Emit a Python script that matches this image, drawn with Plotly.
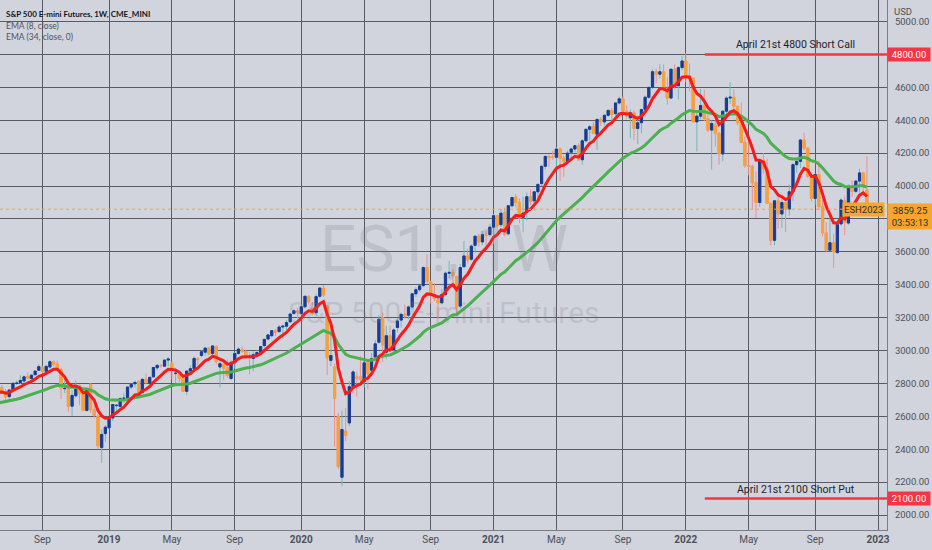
import numpy as np
import pandas as pd
import plotly.graph_objects as go

# weekly bars of ES1! (CME E-mini S&P 500), one per Monday
first_week = "2018-06-11"

opens = [
    2780, 2775, 2750, 2720, 2765, 2800, 2805, 2815, 2842, 2830, 2853, 2880, 2900, 2874, 2900,
    2932, 2918, 2885, 2768, 2770, 2662, 2725, 2785, 2735, 2636, 2795, 2640, 2600, 2410, 2495,
    # 2019
    2530, 2590, 2665, 2660, 2710, 2712, 2778, 2798, 2810, 2745, 2825, 2800, 2840, 2895, 2910,
    2905, 2942, 2920, 2860, 2855, 2830, 2752, 2875, 2890, 2950, 2970, 2990, 3015, 2982, 3025,
    2900, 2915, 2895, 2830, 2925, 2982, 3005, 2994, 2965, 2952, 2975, 2990, 3030, 3070, 3090,
    3120, 3115, 3143, 3148, 3175, 3225, 3242,
    # 2020
    3225, 3266, 3328, 3260, 3230, 3330, 3378, 3270, 2940, 2900, 2600, 2230, 2510, 2560, 2780,
    2840, 2840, 2810, 2925, 2880, 2960, 3050, 3200, 2990, 3090, 3005, 3140, 3185, 3220, 3215,
    3265, 3345, 3370, 3395, 3505, 3415, 3340, 3310, 3290, 3340, 3470, 3475, 3450, 3270, 3510,
    3575, 3555, 3640, 3695, 3660, 3700, 3705,
    # 2021
    3750, 3820, 3765, 3840, 3710, 3880, 3932, 3900, 3810, 3840, 3935, 3910, 3965, 4015, 4120,
    4180, 4175, 4175, 4225, 4170, 4150, 4205, 4225, 4245, 4160, 4275, 4345, 4365, 4315, 4405,
    4390, 4430, 4460, 4440, 4505, 4530, 4455, 4415, 4445, 4350, 4385, 4465, 4540, 4600, 4695,
    4680, 4695, 4585, 4535, 4710, 4610, 4720,
    # 2022
    4760, 4670, 4655, 4390, 4425, 4490, 4410, 4340, 4370, 4320, 4195, 4455, 4535, 4540, 4485,
    4385, 4265, 4125, 4120, 4020, 3900, 4155, 4105, 3895, 3670, 3910, 3830, 3900, 3860, 3965,
    4130, 4150, 4280, 4230, 4060, 3925, 4070, 3875, 3715, 3610, 3655, 3595, 3770, 3910, 3775,
    3995, 3968, 4030, 4080, 3975,
]
highs = [
    2801, 2790, 2765, 2763, 2805, 2817, 2850, 2850, 2865, 2855, 2877, 2917, 2903, 2910, 2941,
    2940, 2940, 2895, 2830, 2785, 2760, 2818, 2795, 2745, 2768, 2800, 2710, 2610, 2520, 2545,
    # 2019
    2600, 2675, 2675, 2715, 2740, 2780, 2795, 2818, 2820, 2830, 2860, 2840, 2898, 2915, 2917,
    2945, 2960, 2935, 2895, 2865, 2840, 2875, 2910, 2965, 2960, 3000, 3018, 3020, 3030, 3030,
    2945, 2950, 2945, 2940, 2990, 3020, 3025, 3005, 2990, 2995, 3000, 3027, 3070, 3100, 3125,
    3130, 3155, 3155, 3185, 3230, 3250, 3260,
    # 2020
    3282, 3332, 3338, 3295, 3345, 3385, 3397, 3280, 3135, 2920, 2620, 2635, 2650, 2815, 2880,
    2870, 2965, 2945, 2945, 2985, 3065, 3215, 3230, 3150, 3150, 3135, 3195, 3230, 3280, 3275,
    3350, 3385, 3395, 3510, 3585, 3425, 3410, 3320, 3375, 3480, 3545, 3495, 3455, 3525, 3665,
    3620, 3645, 3700, 3710, 3725, 3725, 3770,
    # 2021
    3830, 3825, 3860, 3868, 3885, 3935, 3950, 3925, 3935, 3960, 3980, 3965, 4015, 4125, 4185,
    4190, 4215, 4235, 4235, 4185, 4215, 4235, 4250, 4260, 4285, 4345, 4370, 4390, 4410, 4420,
    4435, 4465, 4475, 4505, 4545, 4545, 4490, 4465, 4460, 4420, 4470, 4550, 4600, 4710, 4715,
    4740, 4740, 4660, 4715, 4740, 4730, 4790,
    # 2022
    4808, 4745, 4660, 4460, 4590, 4585, 4485, 4400, 4400, 4330, 4460, 4545, 4630, 4590, 4485,
    4510, 4300, 4300, 4130, 4090, 4160, 4200, 4165, 3900, 3915, 3950, 3920, 3905, 4010, 4140,
    4170, 4285, 4325, 4235, 4065, 4075, 4155, 3920, 3780, 3820, 3710, 3780, 3925, 3935, 4010,
    4035, 4035, 4105, 4085, 4180,
]
lows = [
    2760, 2742, 2692, 2700, 2762, 2790, 2797, 2803, 2825, 2800, 2850, 2878, 2860, 2865, 2890,
    2905, 2875, 2705, 2740, 2628, 2603, 2715, 2670, 2631, 2630, 2621, 2590, 2400, 2317, 2445,
    # 2019
    2525, 2570, 2620, 2630, 2680, 2705, 2765, 2775, 2725, 2740, 2800, 2785, 2838, 2880, 2896,
    2900, 2905, 2825, 2800, 2805, 2748, 2730, 2865, 2880, 2910, 2960, 2970, 2972, 2975, 2915,
    2776, 2822, 2834, 2820, 2890, 2975, 2985, 2950, 2855, 2873, 2955, 2985, 3020, 3060, 3080,
    3090, 3110, 3070, 3125, 3170, 3220, 3195,
    # 2020
    3215, 3255, 3280, 3215, 3215, 3320, 3325, 2850, 2905, 2415, 2280, 2175, 2450, 2540, 2740,
    2720, 2795, 2775, 2765, 2875, 2950, 3040, 2930, 2950, 2990, 2990, 3110, 3140, 3195, 3190,
    3255, 3325, 3355, 3385, 3410, 3285, 3300, 3195, 3280, 3330, 3440, 3415, 3230, 3255, 3500,
    3530, 3545, 3595, 3630, 3640, 3615, 3690,
    # 2021
    3650, 3750, 3750, 3695, 3700, 3870, 3870, 3775, 3720, 3790, 3885, 3850, 3910, 4000, 4100,
    4115, 4160, 4120, 4030, 4055, 4145, 4170, 4205, 4155, 4130, 4270, 4275, 4315, 4220, 4365,
    4370, 4420, 4365, 4430, 4495, 4450, 4410, 4290, 4280, 4255, 4320, 4455, 4530, 4590, 4625,
    4655, 4575, 4495, 4530, 4585, 4525, 4705,
    # 2022
    4630, 4575, 4385, 4210, 4405, 4395, 4330, 4100, 4240, 4130, 4150, 4420, 4500, 4440, 4370,
    4260, 4110, 4065, 3855, 3807, 3875, 4075, 3895, 3640, 3640, 3740, 3745, 3720, 3820, 3910,
    4080, 4110, 4215, 4050, 3905, 3885, 3855, 3695, 3600, 3600, 3502, 3590, 3760, 3700, 3765,
    3935, 3955, 3960, 3960, 3850,
]
closes = [
    2780, 2755, 2718, 2760, 2801, 2802, 2818, 2840, 2833, 2850, 2875, 2902, 2872, 2904, 2932,
    2916, 2887, 2770, 2770, 2660, 2727, 2785, 2738, 2636, 2762, 2640, 2605, 2420, 2490, 2534,
    # 2019
    2597, 2672, 2667, 2708, 2710, 2778, 2795, 2806, 2745, 2825, 2804, 2837, 2897, 2910, 2908,
    2942, 2948, 2883, 2862, 2830, 2752, 2875, 2890, 2952, 2945, 2993, 3015, 2980, 3028, 2935,
    2920, 2892, 2848, 2928, 2982, 3009, 2994, 2965, 2955, 2975, 2988, 3024, 3068, 3095, 3121,
    3112, 3143, 3148, 3170, 3222, 3242, 3235,
    # 2020
    3266, 3330, 3296, 3224, 3328, 3380, 3338, 2955, 2970, 2710, 2295, 2520, 2485, 2780, 2870,
    2830, 2825, 2925, 2860, 2950, 3041, 3190, 3035, 3090, 3000, 3125, 3180, 3220, 3210, 3265,
    3345, 3370, 3393, 3505, 3420, 3335, 3315, 3290, 3340, 3470, 3475, 3455, 3260, 3505, 3575,
    3550, 3635, 3695, 3660, 3705, 3700, 3750,
    # 2021
    3820, 3760, 3835, 3705, 3880, 3930, 3900, 3805, 3835, 3935, 3905, 3965, 4010, 4120, 4180,
    4175, 4175, 4225, 4170, 4150, 4200, 4225, 4245, 4160, 4275, 4345, 4360, 4320, 4405, 4390,
    4430, 4460, 4435, 4505, 4530, 4455, 4425, 4445, 4350, 4385, 4465, 4540, 4600, 4695, 4680,
    4695, 4585, 4535, 4710, 4615, 4720, 4760,
    # 2022
    4670, 4655, 4390, 4425, 4490, 4410, 4340, 4380, 4320, 4195, 4455, 4535, 4540, 4485, 4385,
    4265, 4125, 4120, 4020, 3900, 4155, 4105, 3895, 3670, 3910, 3830, 3900, 3860, 3965, 4130,
    4150, 4280, 4230, 4060, 3925, 4070, 3875, 3715, 3610, 3655, 3600, 3765, 3915, 3780, 3995,
    3968, 4030, 4080, 4005, 3859.25,
]

# EMA levels just before the first bar (the indicators carry history from off-screen)
ema8_start = 2735
ema34_start = 2675

tick_dates = ["2018-09-03", "2019-01-07", "2019-05-06", "2019-09-02", "2020-01-06",
              "2020-05-04", "2020-09-07", "2021-01-04", "2021-05-03", "2021-09-06",
              "2022-01-03", "2022-05-02", "2022-09-05", "2023-01-02"]
tick_labels = ["Sep", "<b>2019</b>", "May", "Sep", "<b>2020</b>", "May", "Sep",
               "<b>2021</b>", "May", "Sep", "<b>2022</b>", "May", "Sep", "<b>2023</b>"]

# price scale: labels hidden where a tag sits on top of them
price_ticks = [2000, 2200, 2400, 2600, 2800, 3000, 3200, 3400, 3600, 3800, 4000, 4200,
               4400, 4600, 4800, 5000]
hidden_price_labels = [3800, 4800]

call_level = 4800
put_level = 2100
call_text = "April 21st 4800 Short Call"
put_text = "April 21st 2100 Short Put"
level_start = "2022-02-08"
last_price = 3859.25
countdown = "03:53:13"

assert len(opens) == len(highs) == len(lows) == len(closes)

BG = "#d1d4dc"
GRID = "#585b65"
TXT = "#4c505b"
UP = "#1c3a94"
DOWN = "#f7a13b"
UP_WICK = "#6fb9b9"
DOWN_WICK = "#ec8f8f"
LEVEL_RED = "#f23645"
TAG_ORANGE = "#f8a52e"

x_range = ["2018-06-14 12:00", "2023-01-19"]


def ema(values, n, start):
    """TradingView style exponential moving average"""
    k = 2 / (n + 1)
    out = []
    prev = start
    for v in values:
        prev = prev + k * (v - prev)
        out.append(prev)
    return out


weeks = pd.date_range(first_week, periods=len(closes), freq="W-MON")
o = np.array(opens, dtype=float)
c = np.array(closes, dtype=float)

fig = go.Figure()

# wicks (full range) in the lighter wick colours
fig.add_trace(go.Candlestick(
    x=weeks, open=opens, high=highs, low=lows, close=closes,
    increasing=dict(line=dict(color=UP_WICK, width=1), fillcolor=UP_WICK),
    decreasing=dict(line=dict(color=DOWN_WICK, width=1), fillcolor=DOWN_WICK),
    whiskerwidth=0, hoverinfo="skip", showlegend=False,
))
# bodies on top
fig.add_trace(go.Candlestick(
    x=weeks, open=opens, close=closes,
    high=np.maximum(o, c), low=np.minimum(o, c),
    increasing=dict(line=dict(color=UP, width=1), fillcolor=UP),
    decreasing=dict(line=dict(color=DOWN, width=1), fillcolor=DOWN),
    whiskerwidth=0, showlegend=False,
))

fig.add_trace(go.Scatter(x=weeks, y=ema(closes, 34, ema34_start), mode="lines",
                         line=dict(color="#4caf50", width=3), showlegend=False))
fig.add_trace(go.Scatter(x=weeks, y=ema(closes, 8, ema8_start), mode="lines",
                         line=dict(color="#f41c1c", width=3), showlegend=False))

shapes = []
for level in (call_level, put_level):
    shapes.append(dict(type="line", xref="x", yref="y", x0=level_start, x1=x_range[1],
                       y0=level, y1=level, line=dict(color=LEVEL_RED, width=2.5)))
shapes.append(dict(type="line", xref="paper", yref="y", x0=0, x1=1, y0=last_price,
                   y1=last_price, line=dict(color=DOWN, width=1, dash="dot")))

mid = pd.Timestamp(level_start) + (pd.Timestamp(x_range[1]) - pd.Timestamp(level_start)) / 2
caption_font = dict(family="Roboto", size=10.5, color="#1e222d")

annotations = [
    # watermark
    dict(text="ES1!, 1W", xref="paper", yref="paper", x=0.5, y=0.53, showarrow=False,
         font=dict(family="Roboto", size=64, color="rgba(120,123,134,0.22)")),
    dict(text="S&P 500 E-mini Futures", xref="paper", yref="paper", x=0.5, y=0.41,
         showarrow=False, font=dict(family="Roboto", size=30, color="rgba(120,123,134,0.22)")),
    # top-left header
    dict(text="<b>S&P 500 E-mini Futures, 1W, CME_MINI</b>", xref="paper", yref="paper",
         x=0, y=1, xanchor="left", yanchor="top", xshift=4, yshift=-7, showarrow=False,
         font=dict(family="Lato", size=8, color="#131722")),
    dict(text="EMA (8, close)", xref="paper", yref="paper", x=0, y=1, xanchor="left",
         yanchor="top", xshift=4, yshift=-19, showarrow=False,
         font=dict(family="Lato", size=8.5, color="#50535e")),
    dict(text="EMA (34, close, 0)", xref="paper", yref="paper", x=0, y=1, xanchor="left",
         yanchor="top", xshift=4, yshift=-30, showarrow=False,
         font=dict(family="Lato", size=8.5, color="#50535e")),
    dict(text="USD", xref="paper", yref="paper", x=1, y=1, xanchor="left", yanchor="top",
         xshift=5, yshift=-4, showarrow=False, font=dict(family="Roboto", size=9.5, color=TXT)),
    # level captions
    dict(text=call_text, x=mid, y=call_level, xref="x", yref="y", yanchor="bottom",
         yshift=1, showarrow=False, font=caption_font),
    dict(text=put_text, x=mid, y=put_level, xref="x", yref="y", yanchor="bottom",
         yshift=1, showarrow=False, font=caption_font),
]
# price tags on the axis
for level in (call_level, put_level):
    annotations.append(dict(text=f"{level:.2f}", xref="paper", yref="y", x=1, y=level,
                            xanchor="left", xshift=0, showarrow=False, bgcolor=LEVEL_RED,
                            borderpad=1, width=40,
                            font=dict(family="Roboto", size=9.5, color="white")))
annotations.append(dict(text=f"{last_price:.2f}<br>{countdown}", xref="paper", yref="y", x=1,
                        y=last_price, xanchor="left", yanchor="top", yshift=6, xshift=0,
                        showarrow=False, bgcolor=TAG_ORANGE, borderpad=1, width=42,
                        font=dict(family="Roboto", size=9.5, color="#2a2e39")))
annotations.append(dict(text="ESH2023", xref="paper", yref="y", x=1, y=last_price,
                        xanchor="right", xshift=-2, showarrow=False, bgcolor=TAG_ORANGE,
                        borderpad=1, font=dict(family="Roboto", size=9.5, color="#2a2e39")))

fig.update_layout(
    width=932, height=550,
    margin=dict(l=0, r=45, t=0, b=20),
    paper_bgcolor=BG, plot_bgcolor=BG,
    showlegend=False,
    boxgap=0.15,
    shapes=shapes, annotations=annotations,
    xaxis=dict(
        type="date", range=x_range, rangeslider=dict(visible=False),
        tickvals=tick_dates, ticktext=tick_labels,
        showgrid=True, gridcolor=GRID, gridwidth=1,
        showline=True, linecolor="#7a7d86", linewidth=1,
        ticks="", tickfont=dict(family="Roboto", size=10, color=TXT),
        zeroline=False, fixedrange=True,
    ),
    yaxis=dict(
        side="right", range=[1909, 5131],
        tickvals=price_ticks,
        ticktext=["" if p in hidden_price_labels else f"{p:.2f}" for p in price_ticks],
        showgrid=True, gridcolor=GRID, gridwidth=1,
        showline=True, linecolor="#7a7d86", linewidth=1,
        ticks="", ticklabelstandoff=5,
        tickfont=dict(family="Roboto", size=9.5, color=TXT),
        zeroline=False,
    ),
)

# the page body has a default 8px margin; drop it so the chart fills the window
fig.write_html("out.html", config={"displayModeBar": False},
               post_script="document.body.style.margin='0';")
